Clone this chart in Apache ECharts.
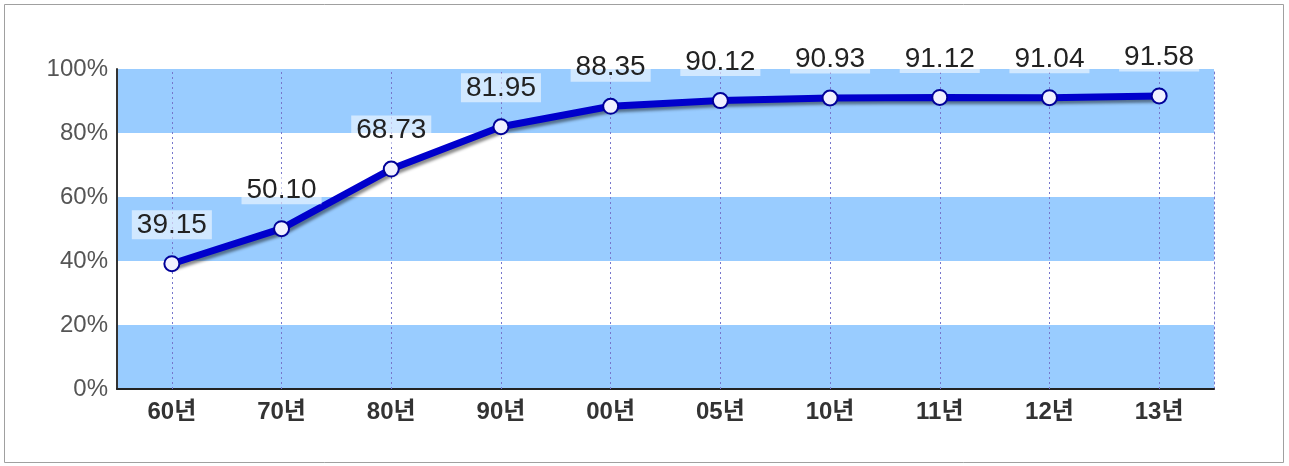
<!DOCTYPE html>
<html><head><meta charset="utf-8">
<script src="https://cdn.jsdelivr.net/npm/echarts@6/dist/echarts.min.js"></script>
<style>html,body{margin:0;padding:0;background:#fff}#c{width:1289px;height:466px}</style>
</head><body><div id="c"></div>
<script>
const categories = ['60년','70년','80년','90년','00년','05년','10년','11년','12년','13년'];
const values = [39.15, 50.10, 68.73, 81.95, 88.35, 90.12, 90.93, 91.12, 91.04, 91.58];
const yTicks = [0, 20, 40, 60, 80, 100];

const FONT = 'Arial, "Liberation Sans", "Noto Sans CJK KR", sans-serif';
const chart = echarts.init(document.getElementById('c'));
chart.setOption({
  animation: false,
  backgroundColor: '#fff',
  graphic: [{
    type: 'rect', shape: {x: 4.5, y: 4.5, width: 1279, height: 458},
    style: {fill: 'none', stroke: '#a0a0a0', lineWidth: 1}, z: -1
  }],
  grid: {left: 117, right: 75, top: 69, bottom: 77},
  xAxis: {
    type: 'category', data: categories, boundaryGap: true,
    axisLine: {lineStyle: {color: '#222', width: 2}},
    axisTick: {show: true, alignWithLabel: true, inside: true, length: 320,
      lineStyle: {color: '#7777cc', type: [2, 3], width: 1}},
    axisLabel: {color: '#333', fontSize: 24, fontWeight: 'bold', fontFamily: FONT, margin: 11},
    splitLine: {show: false}
  },
  yAxis: [{
    type: 'value', min: yTicks[0], max: yTicks[yTicks.length - 1], interval: 20,
    axisLine: {show: true, lineStyle: {color: '#333', width: 2}},
    axisTick: {show: false},
    axisLabel: {color: '#555', fontSize: 24, fontFamily: FONT, margin: 9, formatter: '{value}%'},
    splitLine: {show: false},
    splitArea: {show: true, areaStyle: {color: ['#99CCFF', '#ffffff']}}
  }, {
    type: 'value', min: yTicks[0], max: yTicks[yTicks.length - 1], interval: 20, position: 'right',
    axisLine: {show: true, lineStyle: {color: '#7777cc', type: [2, 3], width: 1}},
    axisTick: {show: false}, axisLabel: {show: false}, splitLine: {show: false}
  }],
  series: [{
    type: 'line', data: values, yAxisIndex: 0,
    symbol: 'circle', symbolSize: 15,
    lineStyle: {color: '#0000CC', width: 7, shadowColor: 'rgba(0,0,0,0.45)', shadowBlur: 3, shadowOffsetX: 2, shadowOffsetY: 3},
    itemStyle: {color: '#f0f0ff', borderColor: '#000099', borderWidth: 2},
    label: {
      show: true, position: 'top', distance: 16,
      formatter: p => p.value.toFixed(2),
      color: '#222', fontSize: 28, fontFamily: FONT,
      backgroundColor: 'rgba(255,255,255,0.55)', padding: [1, 5, 0, 5]
    },
    z: 3
  }]
});
</script></body></html>
